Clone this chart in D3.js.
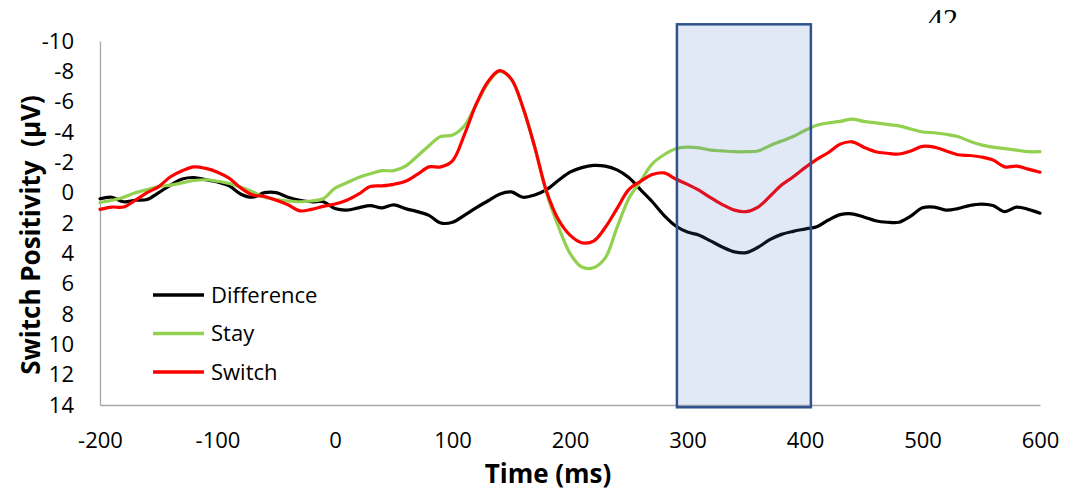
<!DOCTYPE html>
<meta charset="utf-8">
<style>

body {
  margin: 0;
  background: #fff;
}

.axis text {
  font: 22px "Open Sans", sans-serif;
  fill: #000;
}

.axis path {
  stroke: #a6a6a6;
  stroke-width: 1.3px;
}

.series {
  fill: none;
  stroke-width: 3.2px;
  stroke-linejoin: round;
  stroke-linecap: round;
}

.legend text {
  font: 22px "Open Sans", sans-serif;
}

.title {
  font: bold 26px "Open Sans", sans-serif;
  white-space: pre;
}

</style>
<svg width="1082" height="494"></svg>
<script src="https://d3js.org/d3.v7.min.js"></script>
<script>

// time points, every 10 ms from -200 to 600
var times = d3.range(-200, 601, 10);

var difference = [
  0.4, 0.3, 0.6, 0.5, 0.45, 0.0, -0.5, -0.9, -1.0, -0.85,
  -0.7, -0.45, 0.1, 0.3, 0.0, 0.0, 0.3, 0.5, 0.6, 0.6,
  1.05, 1.15, 1.0, 0.85, 1.0, 0.8, 1.05, 1.25, 1.5, 2.0,
  1.95, 1.5, 1.0, 0.55, 0.1, -0.05, 0.3, 0.15, -0.2, -0.8,
  -1.35, -1.65, -1.8, -1.75, -1.5, -1.0, -0.2, 0.6, 1.5, 2.2,
  2.6, 2.8, 3.2, 3.6, 3.9, 3.95, 3.6, 3.1, 2.75, 2.55,
  2.4, 2.25, 1.8, 1.45, 1.4, 1.6, 1.85, 1.95, 1.95, 1.55,
  1.0, 0.95, 1.15, 1.05, 0.85, 0.75, 0.85, 1.25, 0.95, 1.1,
  1.35
];

var stay = [
  0.65, 0.5, 0.3, 0.0, -0.2, -0.4, -0.5, -0.65, -0.8, -0.85,
  -0.75, -0.6, -0.35, -0.05, 0.3, 0.45, 0.55, 0.6, 0.55, 0.4,
  -0.3, -0.65, -1.0, -1.25, -1.45, -1.45, -1.75, -2.4, -3.1, -3.7,
  -3.8, -4.4, -5.8, -7.2, -8.0, -7.5, -5.6, -3.0, 0.0, 2.2,
  4.0, 4.9, 4.95, 4.3, 2.3, 0.4, -0.75, -1.9, -2.5, -2.9,
  -3.0, -2.95, -2.8, -2.75, -2.7, -2.7, -2.75, -3.1, -3.4, -3.7,
  -4.1, -4.45, -4.6, -4.7, -4.85, -4.7, -4.6, -4.5, -4.4, -4.2,
  -4.0, -3.95, -3.85, -3.7, -3.4, -3.15, -3.0, -2.9, -2.8, -2.7,
  -2.7
];

var switchV = [
  1.1, 0.95, 0.95, 0.5, 0.0, -0.4, -1.05, -1.45, -1.7, -1.6,
  -1.35, -0.95, -0.3, 0.15, 0.25, 0.5, 0.8, 1.2, 1.1, 0.9,
  0.75, 0.5, 0.1, -0.4, -0.45, -0.55, -0.75, -1.2, -1.7, -1.7,
  -2.1, -3.8, -5.8, -7.3, -8.05, -7.5, -5.6, -3.0, -0.1, 1.75,
  2.8, 3.3, 3.2, 2.3, 1.05, -0.2, -0.75, -1.2, -1.3, -0.9,
  -0.55, -0.15, 0.35, 0.8, 1.15, 1.25, 0.95, 0.25, -0.5, -1.05,
  -1.65, -2.2, -2.65, -3.2, -3.35, -3.0, -2.7, -2.6, -2.55, -2.75,
  -3.05, -3.0, -2.75, -2.5, -2.45, -2.35, -2.15, -1.7, -1.75, -1.55,
  -1.35
];

var seriesNames = ["Difference", "Stay", "Switch"];
var seriesColors = ["#000000", "#92d050", "#ff0000"];
var xTicks = [-200, -100, 0, 100, 200, 300, 400, 500, 600];
var yTicks = [-10, -8, -6, -4, -2, 0, 2, 4, 6, 8, 10, 12, 14];
var window300 = [291, 405];   // highlighted time window (ms)

var svg = d3.select("svg");

var x = d3.scaleLinear().domain([-200, 600]).range([100, 1040]);
var y = d3.scaleLinear().domain([-10, 14]).range([41, 405]);

// page number peeking in at the top
svg.append("clipPath").attr("id", "pageclip")
  .append("rect").attr("x", 880).attr("y", 0).attr("width", 120).attr("height", 23);
svg.append("text")
    .attr("x", 943).attr("y", 29)
    .attr("clip-path", "url(#pageclip)")
    .style("font", "30px 'Liberation Serif', serif")
    .style("text-anchor", "middle")
    .text("42");

// plain hyphen for negatives, as in the original
var fmt = d => String(d);

svg.append("g")
    .attr("class", "axis")
    .attr("transform", "translate(0,405)")
    .call(d3.axisBottom(x).tickValues(xTicks).tickSize(0).tickPadding(27).tickFormat(fmt));

svg.append("g")
    .attr("class", "axis")
    .attr("transform", "translate(100,0)")
    .call(d3.axisLeft(y).tickValues(yTicks).tickSize(0).tickPadding(26).tickFormat(fmt));

svg.selectAll(".axis").attr("font-family", null).attr("font-size", null);
svg.selectAll(".axis .domain").attr("stroke", null);

var line = d3.line()
    .x((d, i) => x(times[i]))
    .y(d => y(d))
    .curve(d3.curveCatmullRom.alpha(0.5));

svg.selectAll(".series")
    .data([difference, stay, switchV])
  .enter().append("path")
    .attr("class", "series")
    .attr("stroke", (d, i) => seriesColors[i])
    .attr("d", line);

// translucent window drawn over the traces
svg.append("rect")
    .attr("x", x(window300[0]))
    .attr("y", y(-11.1))
    .attr("width", x(window300[1]) - x(window300[0]))
    .attr("height", y(14.15) - y(-11.1))
    .attr("fill", "#4472c4")
    .attr("fill-opacity", 0.16)
    .attr("stroke", "#2f528f")
    .attr("stroke-width", 2.5);

var legend = svg.append("g").attr("class", "legend")
  .selectAll("g")
    .data(seriesNames)
  .enter().append("g")
    .attr("transform", (d, i) => "translate(153," + (295 + i * 38.5) + ")");

legend.append("line")
    .attr("x1", 0).attr("x2", 51)
    .attr("stroke", (d, i) => seriesColors[i])
    .attr("stroke-width", 3.5);

legend.append("text")
    .attr("x", 58)
    .attr("dy", "0.35em")
    .text(d => d);

svg.append("text")
    .attr("class", "title")
    .attr("x", 548).attr("y", 483)
    .style("text-anchor", "middle")
    .text("Time (ms)");

svg.append("text")
    .attr("class", "title")
    .attr("transform", "translate(40,235) rotate(-90)")
    .style("text-anchor", "middle")
    .text("Switch Positivity  (μV)");

</script>
